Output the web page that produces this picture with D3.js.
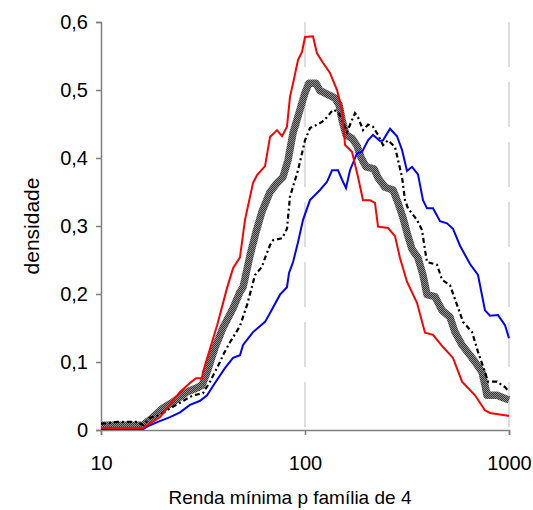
<!DOCTYPE html>
<html><head><meta charset="utf-8">
<script src="https://cdn.jsdelivr.net/npm/d3@7"></script>
<style>body{margin:0;background:#fff}svg{display:block}text{font-family:"Liberation Sans",Arial,sans-serif;fill:#000}</style>
</head><body>
<svg id="c" width="533" height="510"></svg>
<script>
const xTicks = [10, 100, 1000];
const yTicks = [0, 0.1, 0.2, 0.3, 0.4, 0.5, 0.6];
const xLabel = "Renda mínima p família de 4";
const yLabel = "densidade";

const redX = [10,16.1,19.5,24.4,27.3,29.2,31.3,31.6,37.1,41.5,44.4,48.0,50.8,55.6,58.2,63.7,67.4,72.9,77.2,81.6,84.4,87.4,92.4,96.7,100,109.4,114.5,122.5,132.6,143.6,151.9,157.1,170,181.9,192.5,208.3,220.3,228,255.3,276.3,292.2,316.2,354,387.4,424.2,474.8,531.5,588.5,681.6,762.7,807,988.8,1000];
const redY = [0.003,0.003,0.019,0.056,0.069,0.076,0.076,0.085,0.154,0.209,0.238,0.254,0.309,0.363,0.375,0.388,0.431,0.441,0.432,0.446,0.490,0.510,0.544,0.556,0.578,0.579,0.554,0.540,0.525,0.500,0.471,0.419,0.409,0.372,0.338,0.338,0.334,0.299,0.297,0.285,0.253,0.218,0.187,0.143,0.140,0.122,0.106,0.071,0.051,0.029,0.025,0.021,0.021];

const blueX = [10,16.1,17.4,19.0,21.8,24.4,27.3,30.6,33.1,36.2,40.5,44.4,48.0,49.7,55.6,63.7,67.4,75.4,81.6,83.5,87.4,92.4,97.8,105.8,118.4,128.2,135.7,145.2,151.9,158.9,166.2,179.9,190.3,203.7,215.4,233.2,241.2,261.1,282.5,298.9,316.2,334.6,358,378.8,396.3,424.2,459,496.7,531.5,575.3,644.2,704.7,762.7,807,883.4,956,1000];
const blueY = [0.0015,0.0015,0.007,0.012,0.019,0.026,0.037,0.043,0.051,0.069,0.091,0.106,0.110,0.125,0.144,0.159,0.172,0.199,0.210,0.231,0.247,0.276,0.309,0.338,0.353,0.365,0.382,0.382,0.368,0.356,0.382,0.407,0.409,0.426,0.434,0.425,0.426,0.443,0.432,0.412,0.381,0.387,0.376,0.338,0.326,0.326,0.307,0.304,0.296,0.271,0.244,0.228,0.176,0.168,0.169,0.154,0.135];

const blackX = [10,12.0,15.0,16.1,17.4,19.5,21.8,24.4,26.7,28.3,31.6,34.2,38.3,39.6,42.9,48.0,52.0,56.9,61.5,63.7,67.4,69.7,77.2,81.6,84.4,92.4,96.7,100,105.8,114.5,121.1,128.2,137.2,145.2,151.9,160.7,170,175.8,181.9,192.5,203.7,215.4,228,241.2,255.3,276.3,285.8,298.9,309.2,319.8,354,374.5,387.4,396.3,443.8,469.5,513.8,556.1,595.2,658.9,704.7,762.7,789,873.5,956,1000];
const blackY = [0.009,0.012,0.012,0.007,0.018,0.022,0.032,0.040,0.047,0.051,0.054,0.071,0.100,0.110,0.129,0.153,0.184,0.228,0.240,0.253,0.272,0.279,0.282,0.296,0.343,0.382,0.407,0.426,0.444,0.449,0.453,0.460,0.471,0.468,0.456,0.438,0.456,0.466,0.460,0.441,0.449,0.446,0.434,0.419,0.426,0.416,0.397,0.372,0.338,0.326,0.309,0.294,0.265,0.247,0.243,0.221,0.213,0.184,0.159,0.144,0.115,0.085,0.071,0.071,0.063,0.056];

const grayX = [10,16.1,18.0,20.1,22.5,26.4,29.6,31.3,33.1,36.2,39.6,44.4,48.0,49.7,53.8,57.5,61.5,67.4,72.9,78.0,82.6,87.4,94.5,100,104.6,113.2,118.4,128.2,140.3,147,151.9,158.9,170,179.9,188,199,218,228,246.7,270.1,285.8,302.3,319.8,334.6,358,378.8,396.3,433.9,469.5,513.8,543.6,588.5,644.2,681.6,737.3,762.7,780.1,873.5,1000];
const grayY = [0.007,0.007,0.019,0.032,0.041,0.056,0.062,0.066,0.085,0.121,0.150,0.179,0.203,0.210,0.257,0.291,0.321,0.350,0.363,0.372,0.397,0.437,0.471,0.496,0.510,0.510,0.499,0.494,0.488,0.478,0.456,0.434,0.429,0.418,0.401,0.387,0.384,0.371,0.357,0.353,0.334,0.312,0.285,0.266,0.253,0.228,0.199,0.196,0.176,0.166,0.144,0.125,0.110,0.100,0.085,0.066,0.051,0.051,0.044];

const svg = d3.select("#c");
const x = d3.scaleLog().domain([10, 1000]).range([101, 509]);
const y = d3.scaleLinear().domain([0, 0.6]).range([430, 22]);

// pattern for textured grey line
const defs = svg.append("defs");
const pat = defs.append("pattern").attr("id", "chk").attr("patternUnits", "userSpaceOnUse")
  .attr("width", 2).attr("height", 2);
pat.append("rect").attr("width", 2).attr("height", 2).attr("fill", "#3a3a3a");
pat.append("rect").attr("width", 1).attr("height", 1).attr("fill", "#8f8f8f");
pat.append("rect").attr("x", 1).attr("y", 1).attr("width", 1).attr("height", 1).attr("fill", "#8f8f8f");

// vertical gridlines
svg.append("g").selectAll("line").data(xTicks.slice(1)).join("line")
  .attr("x1", d => x(d)).attr("x2", d => x(d))
  .attr("y1", y(0.6)).attr("y2", y(0))
  .attr("stroke", "#d4d4d4").attr("stroke-width", 1.5)
  .attr("stroke-dasharray", "45,15");

// axes
const yAxis = d3.axisLeft(y).tickValues(yTicks).tickSize(5).tickPadding(8)
  .tickFormat(d => d === 0 ? "0" : d3.format(".1f")(d).replace(".", ","));
const gy = svg.append("g").attr("transform", `translate(${x(10)},0)`).call(yAxis);
const xAxis = d3.axisBottom(x).tickValues(xTicks).tickSize(5).tickPadding(21)
  .tickFormat(d3.format("d"));
const gx = svg.append("g").attr("transform", `translate(0,${y(0)})`).call(xAxis);
[gy, gx].forEach(g => {
  g.select(".domain").attr("stroke", "#7f7f7f").attr("stroke-width", 1.5);
  g.selectAll(".tick line").attr("stroke", "#7f7f7f").attr("stroke-width", 1.5);
  g.selectAll(".tick text").attr("font-size", 20).attr("font-family", "Liberation Sans, Arial, sans-serif").attr("fill", "#000");
});

// lines
const line = d3.line().x(d => x(d[0])).y(d => y(d[1]));
const zip = (a, b) => a.map((v, i) => [v, b[i]]);

svg.append("path").datum(zip(grayX, grayY)).attr("d", line)
  .attr("fill", "none").attr("stroke", "url(#chk)").attr("stroke-width", 7.5).attr("stroke-linejoin", "round");
svg.append("path").datum(zip(blackX, blackY)).attr("d", line)
  .attr("fill", "none").attr("stroke", "#000").attr("stroke-width", 2.2).attr("stroke-dasharray", "5,3,2,3");
svg.append("path").datum(zip(blueX, blueY)).attr("d", line)
  .attr("fill", "none").attr("stroke", "#0000ff").attr("stroke-width", 2);
svg.append("path").datum(zip(redX, redY)).attr("d", line)
  .attr("fill", "none").attr("stroke", "#ff0000").attr("stroke-width", 2);

// axis titles
svg.append("text").attr("x", 290).attr("y", 504).attr("text-anchor", "middle")
  .attr("font-size", 19).text(xLabel);
svg.append("text").attr("transform", "translate(39,226) rotate(-90)").attr("text-anchor", "middle")
  .attr("font-size", 21).text(yLabel);
</script>
</body></html>
